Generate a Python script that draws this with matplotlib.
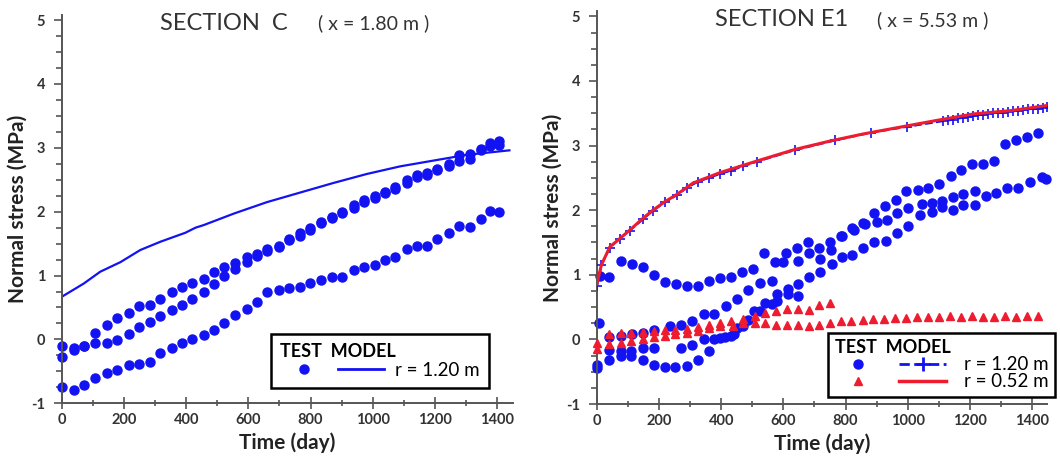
import matplotlib
matplotlib.use('Agg')
import matplotlib.pyplot as plt
from matplotlib.lines import Line2D
from matplotlib.ticker import MultipleLocator

plt.rcParams['font.family'] = ['Lato', 'DejaVu Sans']
plt.rcParams['axes.unicode_minus'] = False

BLUE = '#1212f2'
RED = '#ee1c2e'
GREY = '#555555'

x_ticks = [0, 200, 400, 600, 800, 1000, 1200, 1400]
y_ticks = [-1, 0, 1, 2, 3, 4, 5]

# ---- Section C (x = 1.80 m) ----
c_days = [0, 38, 70, 107, 145, 177, 215, 247, 284, 317, 354, 386, 418, 456, 488, 520, 558, 595, 628, 660,
          697, 730, 767, 799, 832, 869, 901, 939, 971, 1008, 1041, 1073, 1110, 1143, 1175, 1207, 1245, 1277,
          1314, 1347, 1378, 1405]
c_test_top = [-0.1, -0.14, -0.11, 0.1, 0.22, 0.33, 0.41, 0.53, 0.54, 0.64, 0.75, 0.82, 0.89, 0.94, 1.06, 1.14,
              1.19, 1.29, 1.34, 1.42, 1.47, 1.58, 1.66, 1.75, 1.84, 1.92, 2.0, 2.11, 2.18, 2.24, 2.31, 2.39,
              2.49, 2.57, 2.6, 2.67, 2.75, 2.88, 2.91, 2.98, 3.07, 3.1]
c_test_mid = [-0.27, -0.17, -0.11, -0.06, -0.06, -0.01, 0.09, 0.2, 0.28, 0.36, 0.46, 0.54, 0.64, 0.75, 0.86,
              0.99, 1.1, 1.22, 1.3, 1.38, 1.45, 1.55, 1.62, 1.72, 1.82, 1.9, 1.98, 2.06, 2.15, 2.22, 2.3, 2.36,
              2.45, 2.54, 2.58, 2.66, 2.72, 2.8, 2.83, 2.97, 3.03, 3.05]
c_test_low = [-0.74, -0.79, -0.71, -0.61, -0.53, -0.48, -0.4, -0.38, -0.35, -0.22, -0.14, -0.06, 0.0, 0.07,
              0.15, 0.25, 0.38, 0.48, 0.59, 0.74, 0.77, 0.8, 0.82, 0.88, 0.93, 0.98, 0.98, 1.08, 1.14, 1.16,
              1.24, 1.29, 1.42, 1.47, 1.47, 1.58, 1.66, 1.77, 1.76, 1.89, 2.01, 2.0]
c_model_days = [0, 70, 123, 188, 252, 317, 397, 430, 456, 553, 660, 767, 874, 981, 1089, 1196, 1303, 1440]
c_model = [0.67, 0.875, 1.06, 1.21, 1.4, 1.53, 1.67, 1.75, 1.79, 1.97, 2.15, 2.3, 2.45, 2.59, 2.71, 2.8,
           2.89, 2.96]

# ---- Section E1 (x = 5.53 m) ----
e_days_a = [10, 40, 76, 112, 147, 183, 218, 254, 289, 325, 360, 395, 431, 466, 501, 537, 572, 608, 643, 678,
            714, 749, 784, 820, 855, 890, 926, 961, 996, 1032, 1067, 1102, 1138, 1173, 1208, 1244, 1279, 1314,
            1350, 1385, 1420]
e_test_a = [0.98, 0.97, 1.21, 1.17, 1.12, 0.99, 0.89, 0.86, 0.83, 0.82, 0.91, 0.95, 0.96, 1.05, 1.09, 1.34,
            1.2, 1.33, 1.41, 1.51, 1.41, 1.51, 1.6, 1.72, 1.8, 1.95, 2.07, 2.16, 2.3, 2.31, 2.34, 2.41, 2.53,
            2.62, 2.72, 2.72, 2.76, 3.02, 3.09, 3.14, 3.2]
e_days_b = [5, 40, 76, 112, 147, 183, 236, 271, 306, 343, 378, 416, 452, 487, 525, 562, 600, 646, 682, 719,
            753, 789, 827, 863, 900, 932, 965, 1002, 1045, 1077, 1109, 1146, 1178, 1217, 1251, 1284, 1320, 1355,
            1394, 1431, 1445]
e_test_b = [0.26, 0.04, 0.06, 0.08, 0.1, 0.14, 0.21, 0.22, 0.29, 0.39, 0.39, 0.52, 0.63, 0.77, 0.88, 0.91,
            1.2, 1.22, 1.33, 1.25, 1.38, 1.6, 1.7, 1.78, 1.82, 1.85, 1.95, 2.04, 2.1, 2.11, 2.14, 2.2, 2.25,
            2.3, 2.22, 2.27, 2.35, 2.35, 2.43, 2.51, 2.49]
e_days_c = [0, 40, 78, 110, 147, 182, 271, 306, 343, 378, 413, 440, 471, 505, 541, 580, 615, 646, 682, 719,
            755, 789, 822, 856, 893, 931, 965, 1002, 1040, 1077, 1112, 1146, 1178, 1217]
e_test_c = [-0.44, -0.17, -0.18, -0.18, -0.13, -0.13, -0.13, -0.08, 0.0, 0.0, 0.04, 0.08, 0.2, 0.44, 0.57,
            0.6, 0.7, 0.67, 0.96, 1.05, 1.16, 1.28, 1.3, 1.41, 1.5, 1.52, 1.65, 1.76, 1.93, 1.97, 2.05, 2.0,
            2.08, 2.08]
e_days_d = [0, 40, 78, 110, 147, 182, 218, 252, 290, 325, 360, 395, 430, 450, 487, 525, 562, 580, 615, 646]
e_test_d = [-0.39, -0.32, -0.26, -0.26, -0.32, -0.39, -0.43, -0.43, -0.41, -0.32, -0.18, 0.02, 0.05, 0.18,
            0.3, 0.44, 0.55, 0.7, 0.78, 0.86]

e_tri_days_up = [0, 40, 78, 110, 147, 182, 218, 252, 290, 325, 360, 395, 430, 471, 508, 541, 576, 611, 646,
                 682, 715, 750]
e_tri_up = [-0.05, 0.09, 0.1, 0.1, 0.11, 0.13, 0.14, 0.15, 0.16, 0.19, 0.22, 0.26, 0.29, 0.32, 0.37, 0.41,
            0.44, 0.47, 0.47, 0.46, 0.53, 0.57]
e_tri_days_low = [0, 40, 78, 110, 147, 182, 218, 252, 290, 325, 360, 395, 439, 471, 508, 541, 576, 611, 646,
                  682, 715, 750, 786, 818, 855, 889, 924, 960, 995, 1030, 1066, 1101, 1136, 1172, 1207, 1242,
                  1278, 1313, 1349, 1384, 1420]
e_tri_low = [-0.15, -0.07, -0.05, -0.03, 0.0, 0.04, 0.05, 0.08, 0.1, 0.13, 0.18, 0.2, 0.21, 0.26, 0.26, 0.26,
             0.23, 0.23, 0.22, 0.21, 0.22, 0.26, 0.28, 0.28, 0.3, 0.31, 0.32, 0.33, 0.33, 0.34, 0.35, 0.35,
             0.36, 0.35, 0.36, 0.35, 0.35, 0.36, 0.35, 0.36, 0.36]

e_model120_days = [0, 14, 41, 73, 105, 148, 180, 218, 256, 290, 325, 360, 395, 430, 470, 514, 637, 766, 882,
                   997, 1115, 1130, 1146, 1162, 1178, 1194, 1210, 1226, 1242, 1258, 1274, 1290, 1306, 1322,
                   1338, 1354, 1370, 1386, 1402, 1418, 1434, 1448]
e_model120 = [0.82, 1.15, 1.42, 1.56, 1.68, 1.86, 1.99, 2.12, 2.23, 2.35, 2.44, 2.5, 2.56, 2.61, 2.68, 2.75,
              2.93, 3.08, 3.2, 3.29, 3.38, 3.39, 3.4, 3.42, 3.43, 3.44, 3.46, 3.47, 3.48, 3.49, 3.5, 3.51,
              3.51, 3.52, 3.53, 3.54, 3.55, 3.56, 3.57, 3.57, 3.58, 3.59]
e_model052_days = [0, 14, 41, 73, 105, 148, 180, 218, 256, 309, 395, 514, 637, 750, 857, 981, 1094, 1212,
                   1330, 1448]
e_model052 = [0.86, 1.15, 1.43, 1.56, 1.69, 1.875, 2.0, 2.13, 2.24, 2.42, 2.58, 2.76, 2.94, 3.07, 3.18, 3.29,
              3.39, 3.49, 3.54, 3.62]


def style_axes(ax):
    ax.set_xlim(0, 1450)
    ax.set_ylim(-1, 5.08)
    ax.spines['top'].set_visible(False)
    ax.spines['right'].set_visible(False)
    for s in ['left', 'bottom']:
        ax.spines[s].set_color(GREY)
        ax.spines[s].set_linewidth(1.4)
    ax.set_xticks(x_ticks)
    ax.set_xticklabels([str(t) for t in x_ticks], fontweight='bold')
    ax.set_yticks(y_ticks)
    ax.set_yticklabels([str(t) for t in y_ticks], fontweight='bold')
    ax.xaxis.set_minor_locator(MultipleLocator(100))
    ax.yaxis.set_minor_locator(MultipleLocator(0.25))
    ax.tick_params(which='both', color=GREY, width=1.2, labelcolor='#333333', labelsize=10.5)
    ax.tick_params(axis='x', which='major', direction='inout', length=8, pad=3)
    ax.tick_params(axis='x', which='minor', direction='inout', length=5)
    ax.tick_params(axis='y', which='major', direction='out', length=6, pad=6)
    ax.tick_params(axis='y', which='minor', direction='out', length=4)
    ax.set_xlabel('Time (day)', fontsize=15, fontweight='bold', color='#222222', labelpad=4)
    ax.set_ylabel('Normal stress (MPa)', fontsize=15, fontweight='bold', color='#222222', labelpad=3)


fig = plt.figure(figsize=(10.6, 4.66), dpi=100)
ax1 = fig.add_axes([0.0585, 0.1345, 0.425, 0.8335])
ax2 = fig.add_axes([0.5632, 0.133, 0.425, 0.843])

# Section C
dot = dict(ls='none', marker='o', ms=6.5, color=BLUE, clip_on=False)
ax1.plot(c_model_days, c_model, color=BLUE, lw=1.6)
ax1.plot(c_days, c_test_top, **dot)
ax1.plot(c_days, c_test_mid, **dot)
ax1.plot(c_days, c_test_low, **dot)
style_axes(ax1)
ax1.text(0.218, 0.978, 'SECTION  C', transform=ax1.transAxes, fontsize=17, color='#333333', va='center')
ax1.text(0.569, 0.978, '( x = 1.80 m )', transform=ax1.transAxes, fontsize=14, color='#333333', va='center')

h_dot = Line2D([], [], ls='none', marker='o', ms=6.5, color=BLUE)
h_tri = Line2D([], [], ls='none', marker='^', ms=5.5, color=RED)
h_blue = Line2D([], [], color=BLUE, lw=2)
h_plus = Line2D([], [], color=BLUE, lw=2, ls='--', marker='+', ms=10, mew=2)
h_red = Line2D([], [], color=RED, lw=2.5)

leg_kw = dict(ncol=2, frameon=True, fancybox=False, framealpha=1, edgecolor='black', fontsize=13.5,
              title_fontproperties={'weight': 'bold', 'size': 13}, alignment='left', loc='lower left',
              borderaxespad=0, handlelength=2.5, columnspacing=0.0, numpoints=1)
leg1 = ax1.legend([h_dot, h_blue], ['', 'r = 1.20 m'], title='TEST  MODEL', handletextpad=0.55,
                  borderpad=0.5, labelspacing=0.1, bbox_to_anchor=(0.464, 0.039), **leg_kw)
leg1.get_frame().set_linewidth(1.8)

# Section E1
ax2.plot(e_model120_days, e_model120, color=BLUE, lw=1.5, ls='--', marker='+', ms=7, mew=1.2, zorder=3)
ax2.plot(e_model052_days, e_model052, color=RED, lw=2.2, zorder=4)
ax2.plot(e_days_a, e_test_a, **dot)
ax2.plot(e_days_b, e_test_b, **dot)
ax2.plot(e_days_c, e_test_c, **dot)
ax2.plot(e_days_d, e_test_d, **dot)
tri = dict(ls='none', marker='^', ms=5.5, color=RED, clip_on=False, zorder=5)
ax2.plot(e_tri_days_up, e_tri_up, **tri)
ax2.plot(e_tri_days_low, e_tri_low, **tri)
style_axes(ax2)
ax2.text(0.262, 0.978, 'SECTION E1', transform=ax2.transAxes, fontsize=17, color='#333333', va='center')
ax2.text(0.622, 0.978, '( x = 5.53 m )', transform=ax2.transAxes, fontsize=14, color='#333333', va='center')

leg2 = ax2.legend([h_dot, h_tri, h_plus, h_red], ['', '', 'r = 1.20 m', 'r = 0.52 m'], title='TEST  MODEL',
                  handletextpad=0.95, borderpad=0.35, labelspacing=0.0,
                  bbox_to_anchor=(0.513, 0.018), **leg_kw)
leg2.get_frame().set_linewidth(1.8)
leg2.set_zorder(10)

fig.savefig('out.png', dpi=100)
